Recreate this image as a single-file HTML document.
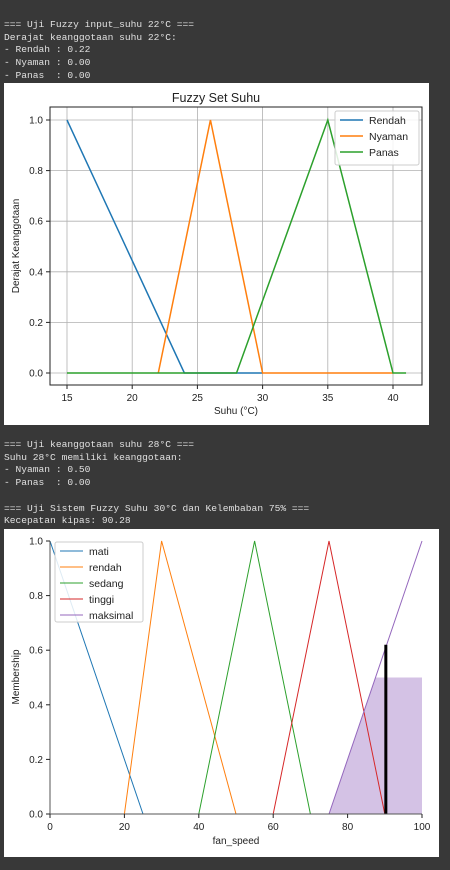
<!DOCTYPE html>
<html><head><meta charset="utf-8"><style>
body{margin:0;background:#383838;width:450px;height:870px;overflow:hidden;position:relative;font-family:"Liberation Sans",sans-serif}
.txt{position:absolute;left:4px;font-family:"Liberation Mono",monospace;font-size:9.6px;line-height:12.7px;color:#e0e0e0;white-space:pre;margin:0}
svg{position:absolute;background:#fff}
</style></head><body>
<pre class="txt" style="top:19px">=== Uji Fuzzy input_suhu 22°C ===
Derajat keanggotaan suhu 22°C:
- Rendah : 0.22
- Nyaman : 0.00
- Panas  : 0.00</pre>
<pre class="txt" style="top:439px">=== Uji keanggotaan suhu 28°C ===
Suhu 28°C memiliki keanggotaan:
- Nyaman : 0.50
- Panas  : 0.00

=== Uji Sistem Fuzzy Suhu 30°C dan Kelembaban 75% ===
Kecepatan kipas: 90.28</pre>
<svg id="c1" style="left:4px;top:83px" width="425" height="342"></svg>
<svg id="c2" style="left:4px;top:529px" width="435" height="328"></svg>
<script>
const NS="http://www.w3.org/2000/svg";
function mk(p,t,a){const e=document.createElementNS(NS,t);for(const k in a)e.setAttribute(k,a[k]);p.appendChild(e);return e;}
// Chart 1 data
const suhuNames=["Rendah","Nyaman","Panas"];
const suhuColors=["#1f77b4","#ff7f0e","#2ca02c"];
const rendahX=[15,24,30], rendahY=[1,0,0];
const nyamanX=[22,26,30,40], nyamanY=[0,1,0,0];
const panasX=[15,28,35,40,41], panasY=[0,0,1,0,0];
const suhuXTicks=[15,20,25,30,35,40];
const suhuYTicks=[0,0.2,0.4,0.6,0.8,1.0];
// Chart 2 data
const fanNames=["mati","rendah","sedang","tinggi","maksimal"];
const fanColors=["#1f77b4","#ff7f0e","#2ca02c","#d62728","#9467bd"];
const matiX=[0,25,100], matiY=[1,0,0];
const rendahFX=[0,20,30,50,100], rendahFY=[0,0,1,0,0];
const sedangX=[0,40,55,70,100], sedangY=[0,0,1,0,0];
const tinggiX=[0,60,75,90,100], tinggiY=[0,0,1,0,0];
const maksX=[0,75,100], maksY=[0,0,1];
const fillX=[75,87.5,100], fillY=[0,0.5,0.5];
const crispX=90.28, crispY=0.62;
const fanXTicks=[0,20,40,60,80,100];
const fanYTicks=[0,0.2,0.4,0.6,0.8,1.0];

(function(){
const s=document.getElementById('c1');
const L=46,R=418,T=24,B=302;
const x=v=>63+(v-15)*(326/25), y=v=>290-v*253;
mk(s,'text',{x:212,y:19,'text-anchor':'middle','font-size':12.5,fill:'#222'}).textContent="Fuzzy Set Suhu";
suhuXTicks.forEach(t=>{const g=mk(s,'line',{x1:x(t),x2:x(t),y1:T,y2:B,stroke:'#b0b0b0','stroke-width':0.8});
mk(s,'line',{x1:x(t),x2:x(t),y1:B,y2:B+4,stroke:'#222'});
const l=mk(s,'text',{x:x(t),y:B+16,'text-anchor':'middle','font-size':10,fill:'#222'});l.textContent=t;});
suhuYTicks.forEach(t=>{mk(s,'line',{x1:L,x2:R,y1:y(t),y2:y(t),stroke:'#b0b0b0','stroke-width':0.8});
mk(s,'line',{x1:L-4,x2:L,y1:y(t),y2:y(t),stroke:'#222'});
const l=mk(s,'text',{x:L-7,y:y(t)+3.5,'text-anchor':'end','font-size':10,fill:'#222'});l.textContent=t.toFixed(1);});
const ser=[[rendahX,rendahY],[nyamanX,nyamanY],[panasX,panasY]];
ser.forEach((d,i)=>{const p=mk(s,'polyline',{points:d[0].map((v,j)=>x(v)+','+y(d[1][j])).join(' '),fill:'none',stroke:suhuColors[i],'stroke-width':1.5});});
mk(s,'rect',{x:L,y:T,width:R-L,height:B-T,fill:'none',stroke:'#222','stroke-width':1});
const lg=mk(s,'g',{});
mk(lg,'rect',{x:331,y:28,width:84,height:54,fill:'#fff','fill-opacity':0.85,stroke:'#ccc',rx:2});
suhuNames.forEach((n,i)=>{mk(lg,'line',{x1:336,x2:359,y1:37+i*16,y2:37+i*16,stroke:suhuColors[i],'stroke-width':1.5});
const t=mk(lg,'text',{x:365,y:41+i*16,'font-size':10.5,fill:'#222'});t.textContent=n;});
mk(s,'text',{x:232,y:331,'text-anchor':'middle','font-size':10,fill:'#222'}).textContent="Suhu (°C)";
mk(s,'text',{x:0,y:0,transform:'translate(15,163) rotate(-90)','text-anchor':'middle','font-size':10,fill:'#222'}).textContent="Derajat Keanggotaan";
})();

(function(){
const s=document.getElementById('c2');
const L=46,R=418,B=285;
const x=v=>L+v*3.72, y=v=>B-v*273;
const pf=mk(s,'polygon',{points:fillX.map((v,j)=>x(v)+','+y(fillY[j])).join(' ')+' '+x(100)+','+y(0),fill:'#9467bd','fill-opacity':0.4});

const ser=[[matiX,matiY],[rendahFX,rendahFY],[sedangX,sedangY],[tinggiX,tinggiY],[maksX,maksY]];
ser.forEach((d,i)=>{const p=mk(s,'polyline',{points:d[0].map((v,j)=>x(v)+','+y(d[1][j])).join(' '),fill:'none',stroke:fanColors[i],'stroke-width':1});});
const cl=mk(s,'line',{x1:x(crispX),x2:x(crispX),y1:y(0),y2:y(crispY),stroke:'#000','stroke-width':3});

mk(s,'line',{x1:L,x2:L,y1:y(1),y2:B,stroke:'#555','stroke-width':1});
mk(s,'line',{x1:L,x2:R,y1:B,y2:B,stroke:'#555','stroke-width':1});
fanXTicks.forEach(t=>{mk(s,'line',{x1:x(t),x2:x(t),y1:B,y2:B+4,stroke:'#222'});
const l=mk(s,'text',{x:x(t),y:B+16,'text-anchor':'middle','font-size':10,fill:'#222'});l.textContent=t;});
fanYTicks.forEach(t=>{mk(s,'line',{x1:L-4,x2:L,y1:y(t),y2:y(t),stroke:'#222'});
const l=mk(s,'text',{x:L-7,y:y(t)+3.5,'text-anchor':'end','font-size':10,fill:'#222'});l.textContent=t.toFixed(1);});
const lg=mk(s,'g',{});
mk(lg,'rect',{x:51,y:13,width:88,height:80,fill:'#fff','fill-opacity':0.85,stroke:'#ccc',rx:2});
fanNames.forEach((n,i)=>{mk(lg,'line',{x1:56,x2:79,y1:22+i*16,y2:22+i*16,stroke:fanColors[i],'stroke-width':1});
const t=mk(lg,'text',{x:85,y:26+i*16,'font-size':10.5,fill:'#222'});t.textContent=n;});
mk(s,'text',{x:232,y:315,'text-anchor':'middle','font-size':10,fill:'#222'}).textContent="fan_speed";
mk(s,'text',{x:0,y:0,transform:'translate(15,148) rotate(-90)','text-anchor':'middle','font-size':10,fill:'#222'}).textContent="Membership";
})();
</script>
</body></html>
